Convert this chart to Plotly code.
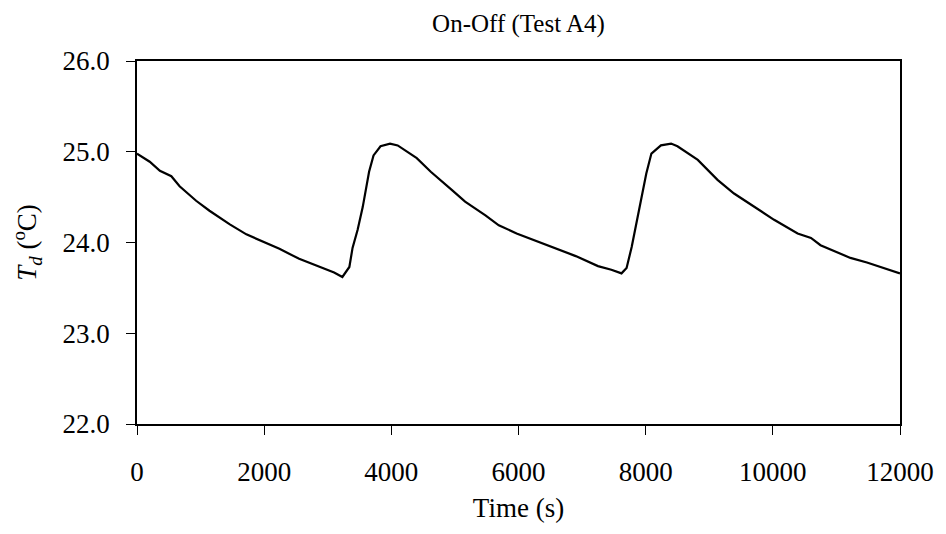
import plotly.graph_objects as go

time_s = [0, 200, 360, 540, 670, 930, 1140, 1460, 1720, 1980, 2240, 2550, 2870, 3100, 3230,
          3340, 3390, 3470, 3550, 3600, 3650, 3720, 3830, 3980, 4100, 4400, 4620, 4950, 5160,
          5480, 5690, 5970, 6300, 6600, 6900, 7250, 7460, 7620, 7700, 7780, 7850, 7930, 8010,
          8090, 8240, 8400, 8500, 8820, 9130, 9390, 9710, 10020, 10390, 10600, 10750, 11010,
          11220, 11480, 11740, 12000]
temp_c = [24.98, 24.89, 24.79, 24.73, 24.62, 24.46, 24.35, 24.20, 24.09, 24.01, 23.93, 23.82,
          23.73, 23.67, 23.62, 23.73, 23.94, 24.14, 24.39, 24.58, 24.78, 24.96, 25.06, 25.09,
          25.07, 24.93, 24.78, 24.58, 24.45, 24.30, 24.19, 24.10, 24.01, 23.93, 23.85, 23.74,
          23.70, 23.66, 23.72, 23.95, 24.21, 24.47, 24.76, 24.98, 25.07, 25.09, 25.06, 24.91,
          24.69, 24.54, 24.39, 24.25, 24.10, 24.05, 23.97, 23.89, 23.83, 23.78, 23.72, 23.66]

x_ticks = [0, 2000, 4000, 6000, 8000, 10000, 12000]
y_ticks = [22, 23, 24, 25, 26]
y_tick_labels = ["22.0", "23.0", "24.0", "25.0", "26.0"]

FONT = "Liberation Serif"

fig = go.Figure()
fig.add_trace(go.Scatter(x=time_s, y=temp_c, mode="lines",
                         line=dict(color="black", width=2.2), showlegend=False))

fig.update_layout(
    width=946, height=534,
    margin=dict(l=137, r=43, t=61, b=110),
    paper_bgcolor="white", plot_bgcolor="white",
    font=dict(family=FONT, color="black"),
    title=dict(text="On-Off (Test A4)", x=0.5, xref="paper", y=1 - 23 / 534,
               yref="container", xanchor="center", yanchor="middle",
               font=dict(family=FONT, size=25, color="black")),
    xaxis=dict(range=[0, 12000], tickvals=x_ticks, ticktext=[str(v) for v in x_ticks],
               showgrid=False, zeroline=False, showline=True, linecolor="black", linewidth=1.5,
               mirror=True, ticks="outside", ticklen=9, tickcolor="black", tickwidth=1.2,
               tickfont=dict(family=FONT, size=27, color="black"), ticklabelstandoff=14,
               title=dict(text="Time (s)", font=dict(family=FONT, size=27, color="black"),
                          standoff=12)),
    yaxis=dict(range=[22, 26], tickvals=y_ticks, ticktext=y_tick_labels,
               showgrid=False, zeroline=False, showline=True, linecolor="black", linewidth=1.5,
               mirror=True, ticks="outside", ticklen=9, tickcolor="black", tickwidth=1.2,
               tickfont=dict(family=FONT, size=27, color="black"), ticklabelstandoff=11,
               title=dict(text="<i>T<sub>d</sub></i> (<sup>o</sup>C)",
                          font=dict(family=FONT, size=27, color="black"), standoff=18)),
)

fig.write_html("out.html")
